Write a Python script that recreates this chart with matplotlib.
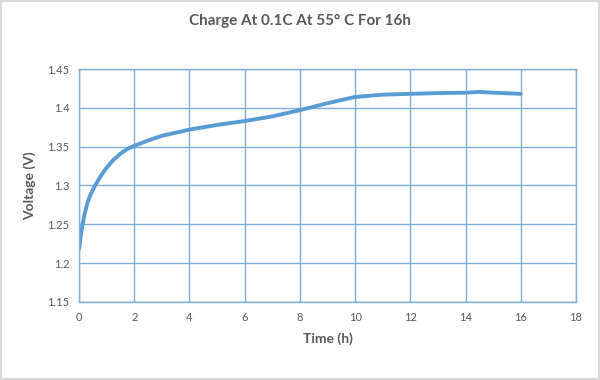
import matplotlib
matplotlib.use("Agg")
import matplotlib.pyplot as plt
from matplotlib.patches import Rectangle
from matplotlib.ticker import FuncFormatter

# values
time_h = [0.0, 0.02, 0.08, 0.13, 0.2, 0.3, 0.4, 0.58, 0.8, 1.0, 1.25, 1.5,
          1.75, 2.0, 2.5, 3.0, 3.5, 4.0, 5.0, 6.0, 7.0, 8.0, 9.0, 10.0,
          11.0, 12.0, 13.0, 14.0, 14.5, 15.0, 16.0]
voltage = [1.218, 1.223, 1.240, 1.250, 1.263, 1.277, 1.287, 1.300, 1.313,
           1.323, 1.333, 1.341, 1.347, 1.351, 1.358, 1.364, 1.368, 1.372,
           1.378, 1.383, 1.389, 1.397, 1.406, 1.414, 1.417, 1.418, 1.419,
           1.4195, 1.4205, 1.4195, 1.418]

x_ticks = [0, 2, 4, 6, 8, 10, 12, 14, 16, 18]
y_ticks = [1.15, 1.2, 1.25, 1.3, 1.35, 1.4, 1.45]

line_blue = "#5b9bd5"
grid_blue = "#7eaee0"
text_grey = "#595959"

plt.rcParams["font.family"] = ["Lato", "DejaVu Sans"]

fig = plt.figure(figsize=(6, 3.8), dpi=100)
ax = fig.add_axes([0.1317, 0.2053, 0.8283, 0.6131])

ax.plot(time_h, voltage, color=line_blue, lw=2.8, solid_capstyle="round")

ax.set_xlim(0, 18)
ax.set_ylim(1.15, 1.45)
ax.set_xticks(x_ticks)
ax.set_yticks(y_ticks)
ax.yaxis.set_major_formatter(FuncFormatter(lambda v, p: f"{v:g}"))
ax.grid(True, color=grid_blue, lw=1.0)
ax.set_axisbelow(True)
for s in ax.spines.values():
    s.set_color(grid_blue)
    s.set_linewidth(1.0)
ax.tick_params(length=0, pad=7, labelsize=8, colors=text_grey)

ax.set_xlabel("Time (h)", fontsize=10, fontweight="bold", color=text_grey, labelpad=7)
ax.set_ylabel("Voltage (V)", fontsize=10, fontweight="bold", color=text_grey, labelpad=8)
fig.text(0.5, 0.945, "Charge At 0.1C At 55° C For 16h", ha="center", va="center",
         fontsize=11, fontweight="bold", color=text_grey)

fig.add_artist(Rectangle((0.002, 0.003), 0.996, 0.994, transform=fig.transFigure,
                         fill=False, edgecolor="#d9d9d9", lw=1.5))

fig.savefig("out.png", dpi=100)
